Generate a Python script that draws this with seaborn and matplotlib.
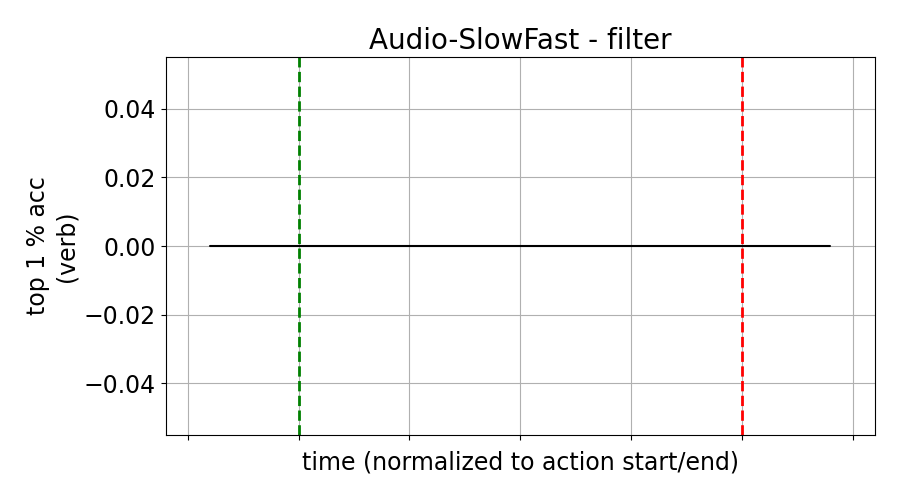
import pandas as pd
import numpy as np
from matplotlib import pyplot as plt
import seaborn as sns

# data
time_points = [-0.2, -0.1, 0.0, 0.1, 0.2, 0.3, 0.4, 0.5, 0.6, 0.7, 0.8, 0.9, 1.0, 1.1, 1.2]
top1_acc = [0.0] * len(time_points)
action_start = 0.0
action_end = 1.0
x_ticks = [-0.25, 0.0, 0.25, 0.5, 0.75, 1.0, 1.25]

df = pd.DataFrame({"time": time_points, "acc": top1_acc})

sns.set_style("ticks")
plt.rcParams['font.family'] = ['DejaVu Sans']
plt.rcParams['text.color'] = 'black'
plt.rcParams['axes.labelcolor'] = 'black'
plt.rcParams['xtick.color'] = 'black'
plt.rcParams['ytick.color'] = 'black'

fig, ax = plt.subplots(figsize=(9, 5), dpi=100)
fig.subplots_adjust(left=0.184, right=0.972, top=0.886, bottom=0.13)

sns.lineplot(data=df, x="time", y="acc", color="black", linewidth=1.5, ax=ax)
ax.axvline(action_start, color="green", linestyle="--", linewidth=2)
ax.axvline(action_end, color="red", linestyle="--", linewidth=2)

ax.set_xlim(-0.3, 1.3)
ax.set_ylim(-0.055, 0.055)
ax.set_xticks(x_ticks)
ax.set_xticklabels([])
ax.set_yticks([-0.04, -0.02, 0.0, 0.02, 0.04])
ax.set_yticklabels(["\u22120.04", "\u22120.02", "0.00", "0.02", "0.04"])
ax.tick_params(labelsize=17, direction="out", length=3.5, width=0.8, colors="black")
ax.grid(True, color="#b0b0b0", linewidth=0.8)
for s in ax.spines.values():
    s.set_linewidth(0.8)
    s.set_color("black")

ax.set_title("Audio-SlowFast - filter", fontsize=20, color="black")
ax.set_xlabel("time (normalized to action start/end)", fontsize=17, color="black")
ax.set_ylabel("top 1 % acc\n(verb)", fontsize=17, color="black")

fig.savefig("out.png", dpi=100)
